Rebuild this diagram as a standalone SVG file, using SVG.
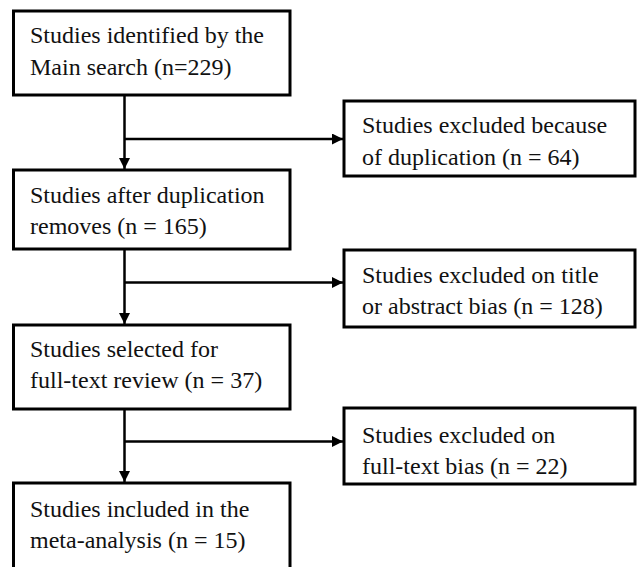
<svg xmlns="http://www.w3.org/2000/svg" width="640" height="567" viewBox="0 0 640 567">
<style>
.box{fill:#fff;stroke:#000;stroke-width:3}
.t{font-size:24px;fill:#111}
.c{fill:none;stroke:#000;stroke-width:2.5}
</style>
<defs>
<marker id="ah" viewBox="0 0 10 10" refX="10" refY="5" markerWidth="11" markerHeight="11" markerUnits="userSpaceOnUse" orient="auto">
<path d="M0,0 L10,5 L0,10 Z" fill="#000"/>
</marker>
</defs>
<rect width="640" height="567" fill="#fff"/>
<g id="connectors">
<line class="c" x1="124.5" y1="95" x2="124.5" y2="169" marker-end="url(#ah)"/>
<line class="c" x1="124.5" y1="139" x2="343" y2="139" marker-end="url(#ah)"/>
<line class="c" x1="124.5" y1="249" x2="124.5" y2="324" marker-end="url(#ah)"/>
<line class="c" x1="124.5" y1="282.5" x2="343" y2="282.5" marker-end="url(#ah)"/>
<line class="c" x1="124.5" y1="409" x2="124.5" y2="482" marker-end="url(#ah)"/>
<line class="c" x1="124.5" y1="441.5" x2="343" y2="441.5" marker-end="url(#ah)"/>
</g>
<g font-family="Liberation Serif, Times New Roman, DejaVu Serif, serif">
<g id="n1">
<rect class="box" x="13.5" y="11" width="276.5" height="84"/>
<text class="t" x="30" y="43">Studies identified by the</text>
<text class="t" x="30" y="75">Main search (n=229)</text>
</g>
<g id="n2">
<rect class="box" x="13.5" y="170" width="276.5" height="79"/>
<text class="t" x="30" y="202.5">Studies after duplication</text>
<text class="t" x="30" y="233.5">removes (n = 165)</text>
</g>
<g id="n3">
<rect class="box" x="13.5" y="325" width="276.5" height="84"/>
<text class="t" x="30" y="357">Studies selected for</text>
<text class="t" x="30" y="388">full-text review (n = 37)</text>
</g>
<g id="n4">
<rect class="box" x="13.5" y="483" width="276.5" height="100"/>
<text class="t" x="30" y="516.5">Studies included in the</text>
<text class="t" x="30" y="548">meta-analysis (n = 15)</text>
</g>
<g id="r1">
<rect class="box" x="344" y="101" width="291" height="75"/>
<text class="t" x="362" y="133">Studies excluded because</text>
<text class="t" x="362" y="165">of duplication (n = 64)</text>
</g>
<g id="r2">
<rect class="box" x="344" y="250" width="291" height="77"/>
<text class="t" x="362" y="283">Studies excluded on title</text>
<text class="t" x="362" y="314">or abstract bias (n = 128)</text>
</g>
<g id="r3">
<rect class="box" x="344" y="408" width="291" height="76"/>
<text class="t" x="362" y="442.5">Studies excluded on</text>
<text class="t" x="362" y="474">full-text bias (n = 22)</text>
</g>
</g>
</svg>
